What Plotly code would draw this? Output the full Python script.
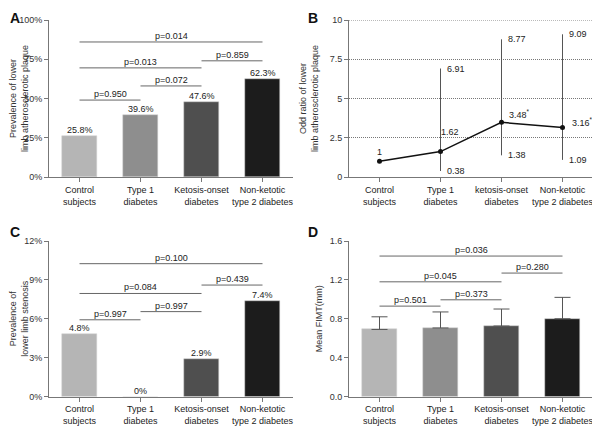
'''
    Four-panel figure: lower limb plaque / stenosis / FIMT by diabetes group
'''
import plotly.graph_objects as go

groups = ['Control<br>subjects', 'Type 1<br>diabetes', 'Ketosis-onset<br>diabetes', 'Non-ketotic<br>type 2 diabetes']
groups_b = ['Control<br>subjects', 'Type 1<br>diabetes', 'ketosis-onset<br>diabetes', 'Non-ketotic<br>type 2 diabetes']
bar_colors = ['#b5b5b5', '#8e8e8e', '#4f4f4f', '#1c1c1c']

# panel A
plaque_pct = [25.8, 39.6, 47.6, 62.3]
plaque_p = [(0, 3, 86, 'p=0.014'), (0, 2, 69.5, 'p=0.013'), (2, 3, 74, 'p=0.859'),
            (1, 2, 58, 'p=0.072'), (0, 1, 49, 'p=0.950')]

# panel B
odds = [1, 1.62, 3.48, 3.16]
odds_lo = [None, 0.38, 1.38, 1.09]
odds_hi = [None, 6.91, 8.77, 9.09]
odds_lbl = ['1', '1.62', '3.48<sup>*</sup>', '3.16<sup>* *</sup>']

# panel C
stenosis_pct = [4.8, 0, 2.9, 7.4]
stenosis_p = [(0, 3, 10.25, 'p=0.100'), (0, 2, 7.95, 'p=0.084'), (2, 3, 8.6, 'p=0.439'),
              (1, 2, 6.55, 'p=0.997'), (0, 1, 5.92, 'p=0.997')]

# panel D
fimt = [0.69, 0.705, 0.725, 0.80]
fimt_sd = [0.13, 0.165, 0.175, 0.22]
fimt_p = [(0, 3, 1.445, 'p=0.036'), (0, 2, 1.18, 'p=0.045'), (2, 3, 1.27, 'p=0.280'),
          (1, 2, 0.995, 'p=0.373'), (0, 1, 0.93, 'p=0.501')]

FONT = 'Liberation Sans, Arial, sans-serif'
AX = '#777777'
TXT = dict(size=9, color='#222222')
# the page body has an 8px margin, so the figure is drawn 8px smaller and offset
W, H, OFF = 592, 418, 8

fig = go.Figure()

def add_brackets(xr, yr, comps):
    for a, b, y, txt in comps:
        fig.add_shape(type='line', xref=xr, yref=yr, x0=a, x1=b, y0=y, y1=y,
                      line=dict(color='#666666', width=1))
        fig.add_annotation(xref=xr, yref=yr, x=(a + b) / 2, y=y, text=txt,
                           showarrow=False, yanchor='bottom', yshift=-1, font=TXT)

def add_bars(xr, yr, vals, fmt):
    fig.add_trace(go.Bar(x=list(range(4)), y=vals, xaxis=xr, yaxis=yr, width=0.57,
                         marker=dict(color=bar_colors, line=dict(color='#d0d0d0', width=0.5)),
                         showlegend=False))
    for i, v in enumerate(vals):
        fig.add_annotation(xref=xr, yref=yr, x=i, y=v, text=fmt.format(v),
                           showarrow=False, yanchor='bottom', yshift=-1, font=TXT)

# A
add_bars('x', 'y', plaque_pct, '{:.1f}%')
add_brackets('x', 'y', plaque_p)

# B
fig.add_shape(type='line', xref='x2 domain', yref='y2', x0=0, x1=1, y0=10, y1=10,
              line=dict(color='#777777', width=1, dash='1px,1px'))
for i in range(1, 4):
    fig.add_trace(go.Scatter(x=[i, i], y=[odds_lo[i], odds_hi[i]], xaxis='x2', yaxis='y2',
                             mode='lines', line=dict(color='#555555', width=1), showlegend=False))
    for v in (odds_hi[i], odds_lo[i]):
        fig.add_annotation(xref='x2', yref='y2', x=i, y=v, text=f'{v:.2f}',
                           showarrow=False, xanchor='left', xshift=4, yanchor='middle', font=TXT)
fig.add_trace(go.Scatter(x=list(range(4)), y=odds, xaxis='x2', yaxis='y2', mode='lines+markers',
                         line=dict(color='#111111', width=1.5),
                         marker=dict(color='#111111', size=5), showlegend=False))
lbl_shift = [(0, 9, 'center'), (-2, 20, 'left'), (5, 8, 'left'), (7, 5, 'left')]
for i, t in enumerate(odds_lbl):
    xs, ys, anc = lbl_shift[i]
    fig.add_annotation(xref='x2', yref='y2', x=i, y=odds[i], text=t, showarrow=False,
                       xanchor=anc, xshift=xs, yanchor='middle', yshift=ys, font=TXT)

# C
add_bars('x3', 'y3', stenosis_pct, '{:g}%')
add_brackets('x3', 'y3', stenosis_p)

# D
fig.add_trace(go.Bar(x=list(range(4)), y=fimt, xaxis='x4', yaxis='y4', width=0.57,
                     marker=dict(color=bar_colors, line=dict(color='#d0d0d0', width=0.5)),
                     error_y=dict(type='data', array=fimt_sd, arrayminus=[0] * 4,
                                  color='#555555', thickness=1, width=8),
                     showlegend=False))
add_brackets('x4', 'y4', fimt_p)

xcommon = dict(range=[-0.5, 3.5], tickmode='array', tickvals=list(range(4)), tickangle=0,
               showline=True, linecolor=AX, linewidth=1, ticks='outside', ticklen=4,
               tickcolor=AX, tickfont=TXT, zeroline=False, showgrid=False, automargin=False)
ycommon = dict(showline=True, linecolor=AX, linewidth=1, ticks='outside', ticklen=4,
               tickcolor=AX, tickfont=dict(size=9, color='#333333'), zeroline=False,
               title_font=dict(size=9, color='#333333'), title_standoff=9, automargin=False)

def xdom(a, b):
    return [(a - OFF) / W, (b - OFF) / W]

def ydom(top, bottom):
    return [1 - (bottom - OFF) / H, 1 - (top - OFF) / H]

left_dom = xdom(49, 293)
right_dom = xdom(349, 593)
top_dom = ydom(20, 177)
bot_dom = ydom(241, 396.5)

fig.update_layout(
    width=W, height=H,
    margin=dict(l=0, r=0, t=0, b=0, autoexpand=False),
    paper_bgcolor='white', plot_bgcolor='white',
    font=dict(family=FONT, size=9, color='#222222'),
    bargap=0,
    xaxis=dict(xcommon, domain=left_dom, anchor='y', ticktext=groups),
    yaxis=dict(ycommon, domain=top_dom, anchor='x', range=[0, 100], tickvals=[0, 25, 50, 75, 100],
               ticktext=['0%', '25%', '50%', '75%', '100%'],
               title_text='Prevalence of lower<br>limb atherosclerotic plaque'),
    xaxis2=dict(xcommon, domain=right_dom, anchor='y2', ticktext=groups_b),
    yaxis2=dict(ycommon, domain=top_dom, anchor='x2', range=[0, 10], tickvals=[0, 2.5, 5, 7.5, 10],
                ticktext=['0', '2.5', '5', '7.5', '10'], showgrid=True, gridcolor='#777777',
                griddash='1px,1px', gridwidth=1,
                title_text='Odd ratio of lower<br>limb atherosclerotic plaque'),
    xaxis3=dict(xcommon, domain=left_dom, anchor='y3', ticktext=groups),
    yaxis3=dict(ycommon, domain=bot_dom, anchor='x3', range=[0, 12], tickvals=[0, 3, 6, 9, 12],
                ticktext=['0%', '3%', '6%', '9%', '12%'],
                title_text='Prevalence of<br>lower limb stenosis'),
    xaxis4=dict(xcommon, domain=right_dom, anchor='y4', ticktext=groups),
    yaxis4=dict(ycommon, domain=bot_dom, anchor='x4', range=[0, 1.6], tickvals=[0, 0.4, 0.8, 1.2, 1.6],
                ticktext=['0.0', '0.4', '0.8', '1.2', '1.6'], title_text='Mean FIMT(mm)',
                title_standoff=5),
)

for letter, x, y in [('A', 8, 8), ('B', 306, 8), ('C', 8, 222), ('D', 306, 222)]:
    fig.add_annotation(xref='paper', yref='paper', x=(x - OFF) / W, y=1 - (y - OFF) / H,
                       text=f'<b>{letter}</b>', showarrow=False, xanchor='left', yanchor='top',
                       font=dict(size=14, color='#111111', family=FONT))

fig.write_html("out.html")
